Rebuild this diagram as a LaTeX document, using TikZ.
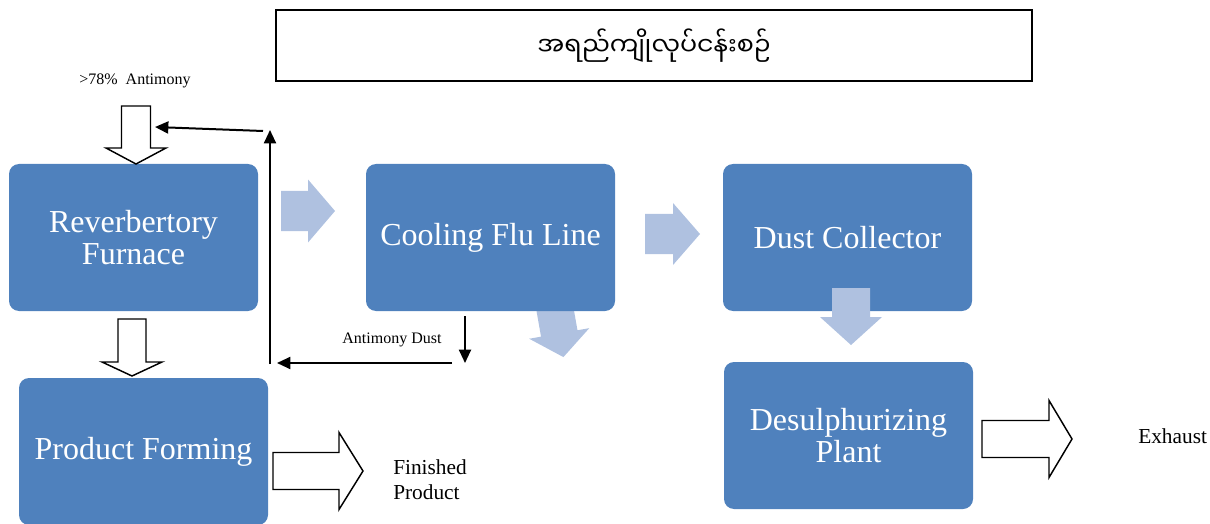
\documentclass[tikz,border=0pt]{standalone}
\usepackage{fontspec}
\setmainfont{Liberation Serif}
\newfontfamily\myanmarfont[Script=Myanmar]{Noto Sans Myanmar UI}
\usetikzlibrary{arrows.meta}
\definecolor{stepblue}{HTML}{4F81BD}
\definecolor{paleblue}{HTML}{AFC1E0}
\tikzset{
  stage/.style={fill=stepblue,draw=none,rounded corners=7.5pt,text=white,align=center,
    minimum width=186.75pt,minimum height=110.25pt,font=\fontsize{24}{24}\selectfont},
  thinarrow/.style={line width=1.5pt,-{Triangle[length=10pt,width=9pt]}},
  paleflow/.style={fill=paleblue,draw=none},
  openflow/.style={fill=white,draw=black,line width=1.1pt},
  pics/fatarrow/.style n args={4}{code={
    \path[pic actions] (0,{-#2/2}) -- ({#1-#4},{-#2/2}) -- ({#1-#4},{-#3/2}) -- (#1,0)
      -- ({#1-#4},{#3/2}) -- ({#1-#4},{#2/2}) -- (0,{#2/2}) -- cycle;
  }}
}
\begin{document}
\begin{tikzpicture}[x=0.75pt,y=-0.75pt]
  \useasboundingbox (0,0) rectangle (1210,524);
  \node[draw,line width=1.2pt,minimum width=567pt,minimum height=53.25pt] (title) at (654,45.5)
    {\myanmarfont\fontsize{19}{19}\selectfont အရည်ကျိုလုပ်ငန်းစဉ်};

  \pic[paleflow,rotate=-80] (spill) at (553,298) {fatarrow={60}{37}{61}{24}};

  \node[stage] (furnace) at (133.5,237.5) {Reverbertory\\Furnace};
  \node[stage] (cooling) at (490.5,237.5) {\raisebox{-2.5pt}{Cooling Flu Line}};
  \node[stage] (dust) at (847.5,237.5) {Dust Collector};
  \node[stage] (forming) at (143.5,451.5) {Product Forming};
  \node[stage] (desulph) at (848.5,435.5) {Desulphurizing\\Plant};

  \pic[paleflow] (gas) at (281,211) {fatarrow={54}{40}{63}{27}};
  \pic[paleflow] (flue) at (645,234) {fatarrow={55}{40}{62}{27}};
  \pic[paleflow,rotate=-90] (sink) at (851,288) {fatarrow={57}{38}{62}{28}};

  \pic[openflow,rotate=-90] (feed) at (136,106) {fatarrow={58}{29}{60}{16}};
  \pic[openflow,rotate=-90] (cast) at (132,319) {fatarrow={57}{28}{60}{14}};
  \pic[openflow] (ship) at (273,471) {fatarrow={90}{37}{77}{24}};
  \pic[openflow] (vent) at (982,439) {fatarrow={90}{37}{77}{23}};

  \node[font=\fontsize{12}{12}\selectfont] (ore) at (135,81) {>78\%\ \ Antimony};
  \node[font=\fontsize{12}{12}\selectfont] (dustlabel) at (392,340) {Antimony Dust};
  \node[font=\fontsize{16}{18.75}\selectfont,align=left,anchor=west,inner sep=0pt] (finished) at (393,480) {Finished\\Product};
  \node[font=\fontsize{16}{16}\selectfont,anchor=west,inner sep=0pt] (exhaust) at (1138,436) {Exhaust};

  \coordinate (dropstart) at (465,316);
  \coordinate (dropend) at (465,363);
  \coordinate (returnstart) at (452,363);
  \coordinate (returnend) at (277,363);
  \coordinate (riserbottom) at (270,364);
  \coordinate (risertop) at (270,130);
  \coordinate (feedstart) at (263,131);
  \coordinate (feedend) at (155,127);
  \draw[thinarrow] (dropstart) -- (dropend);
  \draw[thinarrow] (returnstart) -- (returnend);
  \draw[thinarrow] (riserbottom) -- (risertop);
  \draw[thinarrow] (feedstart) -- (feedend);
\end{tikzpicture}
\end{document}
